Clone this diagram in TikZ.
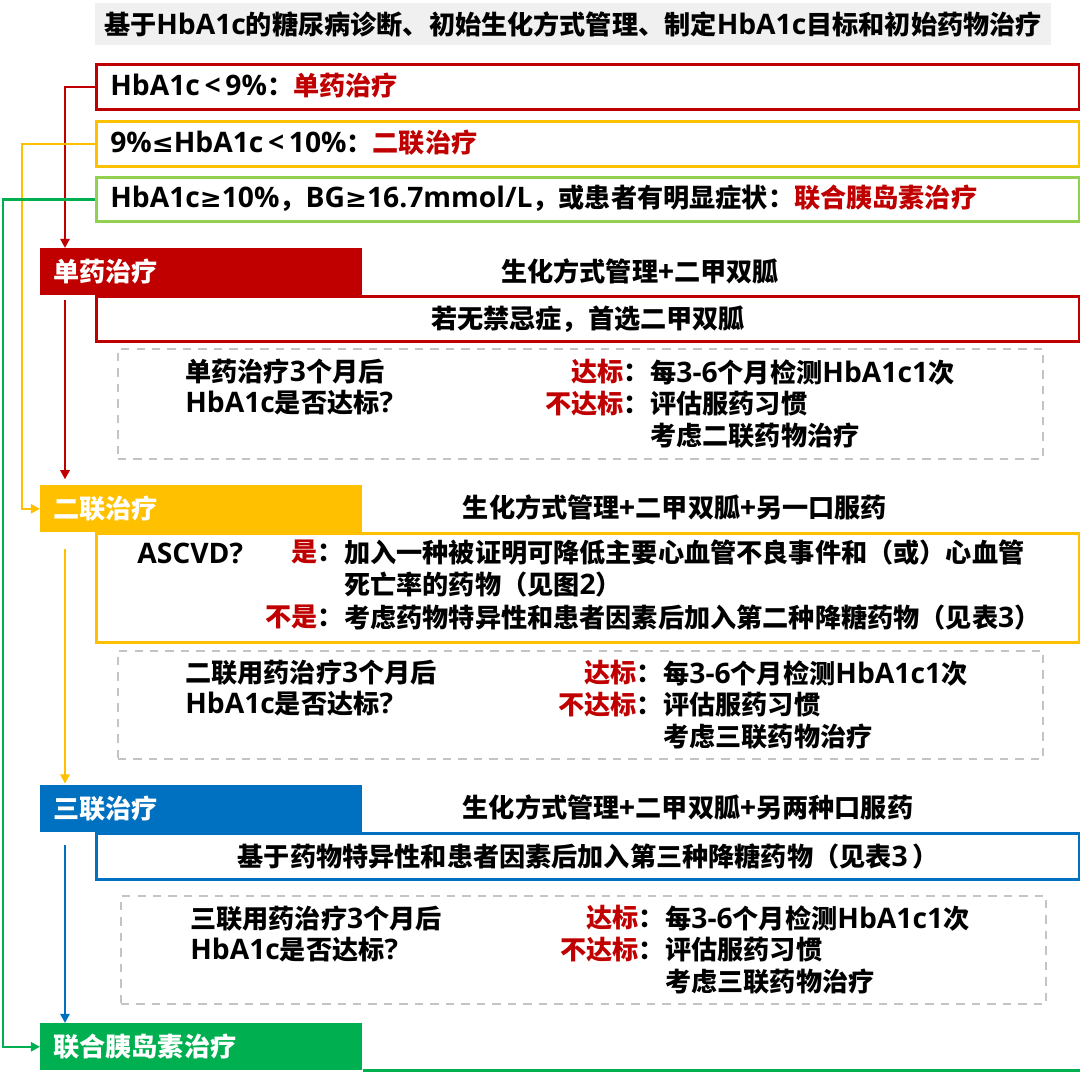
\documentclass[tikz,border=0pt]{standalone}
\usepackage{fontspec}
\setmainfont{Noto Sans CJK SC}
\newfontfamily\latf[Scale=1.08]{Open Sans}
\newfontfamily\symf{DejaVu Sans}
\newcommand\lat[1]{{\latf#1}}
\newcommand\sym[1]{{\symf#1}}
\usetikzlibrary{arrows.meta}
\definecolor{dred}{HTML}{C00000}
\definecolor{ylw}{HTML}{FFC000}
\definecolor{lgrn}{HTML}{92D050}
\definecolor{grn}{HTML}{00B050}
\definecolor{blu}{HTML}{0070C0}
\definecolor{ttlgray}{HTML}{F0F0F0}
\definecolor{dgray}{HTML}{C4C4C4}
\tikzset{
  txt/.style={inner sep=0pt, font=\bfseries\fontsize{18.6}{22.5}\selectfont},
  ttl/.style={txt, anchor=north west, fill=ttlgray, minimum width=23.875cm, minimum height=1.05cm},
  cbox/.style={txt, anchor=north west, line width=2pt, fill=white, minimum width=24.575cm},
  hdr/.style={txt, anchor=north west, text=white, align=left, text width=7.4cm, inner xsep=0.325cm, minimum height=1.175cm},
  dbox/.style={anchor=north west, draw=dgray, line width=1.4pt, dash pattern=on 6pt off 5pt, minimum width=23.125cm},
  conn/.style={line width=1.6pt, -{Triangle[length=6.5pt,width=6.5pt]}}
}
\begin{document}
\begin{tikzpicture}[x=0.025cm,y=-0.025cm]
\useasboundingbox (0,0) rectangle (1080,1078);
\coordinate (rlane) at (65,0);
\coordinate (ylane) at (22,0);
\coordinate (glane) at (3,0);

\node[ttl] (ttl) at (95,3) {基于\lat{HbA1c}的糖尿病诊断、初始生化方式管理、制定\lat{HbA1c}目标和初始药物治疗};
\node[cbox, draw=dred, minimum height=1.125cm] (b1) at (95,63) {};
\node[cbox, draw=ylw, minimum height=1.125cm] (b2) at (95,120) {};
\node[cbox, draw=lgrn, minimum height=1.1cm] (b3) at (95,176) {};
\node[txt, anchor=west] (b1t) at (110,86) {\lat{HbA1c\,<\,9\%}：\textcolor{dred}{单药治疗}};
\node[txt, anchor=west] (b2t) at (110,143) {\lat{9\%}\sym{≤}\lat{HbA1c\,<\,10\%}：\textcolor{dred}{二联治疗}};
\node[txt, anchor=west] (b3t) at (110,198) {\lat{HbA1c}\sym{≥}\lat{10\%}，\lat{BG}\sym{≥}\lat{16.7mmol/L}，或患者有明显症状：\textcolor{dred}{联合胰岛素治疗}};

\node[cbox, draw=dred, minimum height=1.125cm] (r1) at (95,295) {若无禁忌症，首选二甲双胍};
\node[hdr, fill=dred] (h1) at (40,248) {单药治疗};
\node[txt] (s1) at (640,271) {生化方式管理+二甲双胍};
\node[dbox, minimum height=2.75cm] (d1) at (117,348) {};
\node[txt, anchor=west, align=left] (q1) at (185,387) {单药治疗\lat{3}个月后\\\lat{HbA1c}是否达标\lat{?}};
\node[txt, anchor=north west, align=left] (a1) at (650,359) {每\lat{3-6}个月检测\lat{HbA1c1}次\\评估服药习惯\\考虑二联药物治疗};
\node[txt, anchor=north east, align=right] (l1) at (a1.north west) {\textcolor{dred}{达标}：\\\textcolor{dred}{不达标}：};

\node[cbox, draw=ylw, minimum height=2.725cm] (r2) at (95,532) {};
\node[hdr, fill=ylw] (h2) at (40,485) {二联治疗};
\node[txt] (s2) at (675,507) {生化方式管理+二甲双胍+另一口服药};
\node[txt, anchor=west] (asc) at (137,553) {\lat{ASCVD?}};
\node[txt, anchor=north west, align=left] (yes) at (344,540) {加入一种被证明可降低主要心血管不良事件和（或）心血管\\死亡率的药物（见图\lat{2}）};
\node[txt, anchor=north east] (yesl) at (yes.north west) {\textcolor{dred}{是}：};
\node[txt, anchor=north west] (no) at (344,605) {考虑药物特异性和患者因素后加入第二种降糖药物（见表\lat{3}）};
\node[txt, anchor=north east] (nol) at (no.north west) {\textcolor{dred}{不是}：};
\node[dbox, minimum height=2.7cm] (d2) at (117,650) {};
\node[txt, anchor=west, align=left] (q2) at (185,688) {二联用药治疗\lat{3}个月后\\\lat{HbA1c}是否达标\lat{?}};
\node[txt, anchor=north west, align=left] (a2) at (663,660) {每\lat{3-6}个月检测\lat{HbA1c1}次\\评估服药习惯\\考虑三联药物治疗};
\node[txt, anchor=north east, align=right] (l2) at (a2.north west) {\textcolor{dred}{达标}：\\\textcolor{dred}{不达标}：};

\node[cbox, draw=blu, minimum height=1.15cm] (r3) at (95,832) {基于药物特异性和患者因素后加入第三种降糖药物（见表\lat{3}\,）};
\node[hdr, fill=blu] (h3) at (40,785) {三联治疗};
\node[txt] (s3) at (688,807) {生化方式管理+二甲双胍+另两种口服药};
\node[dbox, minimum height=2.7cm] (d3) at (120,895) {};
\node[txt, anchor=west, align=left] (q3) at (190,934) {三联用药治疗\lat{3}个月后\\\lat{HbA1c}是否达标\lat{?}};
\node[txt, anchor=north west, align=left] (a3) at (665,905) {每\lat{3-6}个月检测\lat{HbA1c1}次\\评估服药习惯\\考虑三联药物治疗};
\node[txt, anchor=north east, align=right] (l3) at (a3.north west) {\textcolor{dred}{达标}：\\\textcolor{dred}{不达标}：};

\node[hdr, fill=grn] (h4) at (40,1023) {联合胰岛素治疗};
\draw[grn, line width=2pt] (h4.south east) -- (h4.south east -| r3.east);

\draw[conn, dred] (b1.west) -| (h1.north -| rlane);
\draw[conn, ylw] (b2.west) -- (b2.west -| ylane) |- (h2.west);
\draw[conn, grn] (b3.west) -- (b3.west -| glane) |- (h4.west);
\draw[conn, dred, shorten <=3.5pt, shorten >=4pt] (h1.south -| rlane) -- (h2.north -| rlane);
\draw[conn, ylw, shorten <=12pt, shorten >=1pt] (h2.south -| rlane) -- (h3.north -| rlane);
\draw[conn, blu, shorten <=9pt] (h3.south -| rlane) -- (h4.north -| rlane);
\end{tikzpicture}
\end{document}
